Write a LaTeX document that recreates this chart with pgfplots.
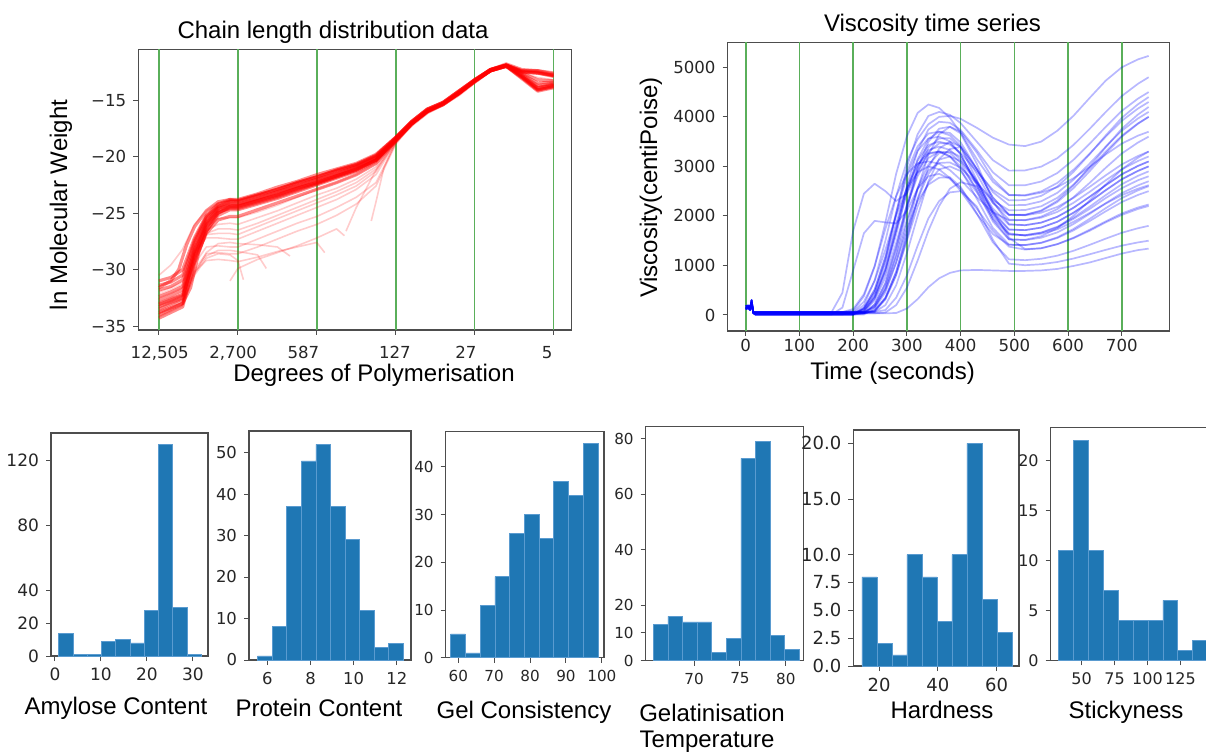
\documentclass[border=0pt]{standalone}
\usepackage{fontspec}
\setmainfont{Liberation Sans}
\newfontfamily\tickfont{DejaVu Sans}
\usepackage{pgfplots}
\pgfplotsset{compat=1.18}

\definecolor{mplblue}{HTML}{1F77B4}
\definecolor{baredge}{HTML}{5A9BD0}
\definecolor{gridgreen}{HTML}{5AAF5A}
\definecolor{spine}{HTML}{4D4D4D}

\newcommand{\tf}[1]{\tickfont\fontsize{#1}{#1}\selectfont}
\newcommand{\lf}{\fontsize{12}{14}\selectfont}

\pgfplotsset{
  panel/.style={
    scale only axis, anchor=south west,
    axis line style={spine, line width=0.6pt},
    tick align=outside, tick pos=left,
    major tick length=2.5pt,
    every tick/.style={spine, line width=0.5pt},
    tick label style={text=black!85},
    /pgf/number format/assume math mode=true,
    /pgf/number format/1000 sep={},
    scaled ticks=false,
  },
  hist/.style={panel, ymin=0},
  bars/.style={ybar interval, fill=mplblue, draw=baredge, line width=0.35pt},
  vline/.style={draw=gridgreen, line width=0.8pt, forget plot},
  red curve/.style={color=red, opacity=0.45, line width=1.6pt, line join=round},
  faint red/.style={color=red, opacity=0.2, line width=0.8pt, line join=round},
  blue curve/.style={color=blue, opacity=0.28, line width=0.85pt, line join=round},
}

\begin{document}
\begin{tikzpicture}

% ---- chain length distribution
\begin{axis}[panel, at={(69.15pt,210.5pt)}, width=216.7pt, height=140.35pt,
  xmin=-0.262, xmax=5.23, ymin=-35.35, ymax=-10.5,
  xtick={0,1,2,3,4,5}, xticklabels={,,,,,},
  extra x ticks={0.01,0.94,1.83,2.99,3.89,4.92},
  extra x tick labels={{12,505},{2,700},587,127,27,5},
  extra x tick style={major tick length=0pt, tick label style={yshift=-4.5pt}},
  ytick={-35,-30,-25,-20,-15}, yticklabels={−35,−30,−25,−20,−15},
  tick label style={font=\tf{8.3}},
]
\addplot[vline] coordinates {(0,-40)(0,0)};
\addplot[vline] coordinates {(1,-40)(1,0)};
\addplot[vline] coordinates {(2,-40)(2,0)};
\addplot[vline] coordinates {(3,-40)(3,0)};
\addplot[vline] coordinates {(4,-40)(4,0)};
\addplot[vline] coordinates {(5,-40)(5,0)};
% lower fan
\addplot[faint red] coordinates {(0,-32.0)(0.15,-31.6)(0.3,-31.1)(0.45,-28.0)(0.6,-26.2)(0.75,-25.5)(0.9,-25.4)(1,-25.4)(1.25,-24.9)(1.5,-24.3)(1.75,-23.6)(2,-22.9)(2.25,-22.3)(2.5,-21.6)(2.75,-20.6)(3,-18.5)(3.2,-17.0)(3.4,-15.9)(3.6,-15.3)(3.8,-14.3)(4,-13.3)(4.2,-12.4)(4.4,-11.9)(4.6,-12.8)(4.8,-13.9)(5,-13.6)};
\addplot[faint red] coordinates {(0,-33.2)(0.15,-32.8)(0.3,-32.3)(0.45,-28.7)(0.6,-26.8)(0.75,-26.4)(0.9,-26.4)(1,-26.5)(1.25,-25.9)(1.5,-25.2)(1.75,-24.5)(2,-23.8)(2.25,-23.1)(2.5,-22.3)(2.75,-21.1)(3,-18.6)(3.2,-17.1)(3.4,-16.0)(3.6,-15.3)(3.8,-14.4)(4,-13.3)(4.2,-12.4)(4.4,-11.9)(4.6,-12.5)(4.8,-12.6)(5,-12.9)};
\addplot[faint red] coordinates {(0,-32.5)(0.15,-32.1)(0.3,-31.6)(0.45,-28.5)(0.6,-27.2)(0.75,-27.2)(0.9,-27.3)(1,-27.3)(1.25,-26.6)(1.5,-25.9)(1.75,-25.2)(2,-24.5)(2.25,-23.8)(2.5,-22.9)(2.75,-21.6)(3,-18.7)(3.2,-17.1)(3.4,-16.0)(3.6,-15.3)(3.8,-14.4)(4,-13.3)(4.2,-12.4)(4.4,-12.0)(4.6,-13.0)(4.8,-14.1)(5,-13.8)};
\addplot[faint red] coordinates {(0,-33.8)(0.15,-33.3)(0.3,-32.8)(0.45,-29.5)(0.6,-28.0)(0.75,-27.9)(0.9,-28.0)(1,-28.0)(1.25,-27.3)(1.5,-26.6)(1.75,-25.9)(2,-25.3)(2.25,-24.5)(2.5,-23.6)(2.75,-22.3)(3,-18.8)(3.2,-17.2)(3.4,-16.1)(3.6,-15.4)(3.8,-14.5)(4,-13.4)(4.2,-12.4)(4.4,-12.0)(4.6,-12.9)(4.8,-13.8)(5,-13.6)};
\addplot[faint red] coordinates {(0,-34.1)(0.15,-33.6)(0.3,-33.1)(0.45,-30.0)(0.6,-28.6)(0.75,-28.5)(0.9,-28.6)(1,-28.6)(1.25,-28.0)(1.5,-27.3)(1.75,-26.6)(2,-26.0)(2.25,-25.2)(2.5,-24.2)(2.75,-22.6)(3,-18.9)(3.2,-17.2)(3.4,-16.1)(3.6,-15.4)(3.8,-14.5)(4,-13.4)(4.2,-12.5)(4.4,-12.0)(4.6,-12.6)(4.8,-12.7)(5,-12.9)};
\addplot[faint red] coordinates {(0,-33.6)(0.15,-33.2)(0.3,-32.6)(0.45,-30.2)(0.6,-29.2)(0.75,-29.1)(0.9,-29.2)(1,-29.3)(1.25,-28.9)(1.5,-28.4)(1.75,-28.0)(2,-27.6)(2.1,-28.5)};
\addplot[faint red] coordinates {(0.9,-31.0)(1,-29.9)(1.25,-29.1)(1.5,-28.5)(1.75,-27.9)(2,-27.2)(2.25,-26.4)(2.35,-27.0)};
\addplot[faint red] coordinates {(0,-32.9)(0.15,-32.5)(0.3,-32.0)(0.45,-28.6)(0.6,-26.5)(0.75,-26.0)(0.9,-25.9)(1,-26.0)(1.25,-25.4)(1.5,-24.8)(1.75,-24.1)(2,-23.4)(2.25,-22.8)(2.5,-22.0)(2.75,-20.9)(3,-18.6)(3.2,-17.1)(3.4,-16.0)(3.6,-15.3)(3.8,-14.4)(4,-13.3)(4.2,-12.4)(4.4,-11.9)(4.6,-12.7)(4.8,-13.8)(5,-13.6)};
\addplot[faint red] coordinates {(2.69,-25.7)(2.75,-24.0)(2.85,-21.0)(3,-18.7)(3.2,-17.1)(3.4,-16.0)(3.6,-15.3)(3.8,-14.4)(4,-13.3)(4.2,-12.4)(4.4,-11.9)(4.6,-12.5)(4.8,-12.6)(5,-12.9)};
\addplot[faint red] coordinates {(0,-34.2)(0.15,-33.7)(0.3,-33.2)(0.45,-30.4)(0.6,-28.5)(0.75,-27.7)(0.9,-27.6)(1,-27.7)(1.25,-27.8)(1.5,-28.0)(1.66,-28.8)};
\addplot[faint red] coordinates {(0,-33.9)(0.15,-33.4)(0.3,-32.9)(0.45,-30.5)(0.6,-29.0)(0.75,-28.6)(0.9,-28.7)(1,-29.2)(1.07,-30.9)};
\addplot[faint red] coordinates {(0,-33.7)(0.15,-33.2)(0.3,-32.8)(0.45,-30.2)(0.6,-28.8)(0.75,-28.3)(0.9,-28.3)(1,-28.4)(1.25,-28.7)(1.36,-29.9)};
\addplot[faint red] coordinates {(2.37,-26.6)(2.5,-24.5)(2.75,-21.2)(3,-18.8)(3.2,-17.2)(3.4,-16.0)(3.6,-15.3)(3.8,-14.4)(4,-13.4)(4.2,-12.4)(4.4,-12.0)(4.6,-13.0)(4.8,-14.0)(5,-13.7)};
\addplot[faint red] coordinates {(0,-32.2)(0.15,-31.8)(0.3,-31.3)(0.45,-28.3)(0.6,-26.9)(0.75,-26.8)(0.9,-26.8)(1,-26.9)(1.25,-26.2)(1.5,-25.5)(1.75,-24.8)(2,-24.1)(2.25,-23.4)(2.5,-22.6)(2.75,-21.3)(3,-18.6)(3.2,-17.1)(3.4,-16.0)(3.6,-15.3)(3.8,-14.4)(4,-13.3)(4.2,-12.4)(4.4,-11.9)(4.6,-12.6)(4.8,-13.0)(5,-13.2)};
\addplot[faint red] coordinates {(0,-30.5)(0.15,-29.6)(0.3,-28.2)(0.45,-26.0)(0.6,-24.8)(0.75,-24.1)(0.9,-23.9)(1,-23.9)(1.25,-23.4)(1.5,-22.8)(1.75,-22.3)(2,-21.7)(2.25,-21.2)(2.5,-20.7)(2.75,-19.9)(3,-18.3)(3.2,-16.9)(3.4,-15.8)(3.6,-15.2)(3.8,-14.2)(4,-13.2)(4.2,-12.3)(4.4,-11.9)(4.6,-12.4)(4.8,-12.5)(5,-12.8)};
% main band
\addplot[red curve] coordinates {(0,-31.0)(0.15,-30.7)(0.3,-30.0)(0.45,-27.2)(0.6,-25.2)(0.75,-24.2)(0.9,-23.8)(1,-23.8)(1.25,-23.3)(1.5,-22.7)(1.75,-22.2)(2,-21.6)(2.25,-21.1)(2.5,-20.6)(2.75,-19.8)(3,-18.3)(3.2,-16.9)(3.4,-15.8)(3.6,-15.2)(3.8,-14.2)(4,-13.2)(4.2,-12.3)(4.4,-11.9)(4.6,-12.4)(4.8,-12.4)(5,-12.7)};
\addplot[red curve] coordinates {(0,-31.8)(0.15,-31.5)(0.3,-30.9)(0.45,-27.6)(0.6,-25.4)(0.75,-24.4)(0.9,-24.0)(1,-24.0)(1.25,-23.5)(1.5,-23.0)(1.75,-22.4)(2,-21.9)(2.25,-21.3)(2.5,-20.8)(2.75,-20.0)(3,-18.4)(3.2,-17.0)(3.4,-15.9)(3.6,-15.3)(3.8,-14.3)(4,-13.2)(4.2,-12.3)(4.4,-11.9)(4.6,-12.9)(4.8,-14.0)(5,-13.7)};
\addplot[red curve] coordinates {(0,-32.4)(0.15,-32.0)(0.3,-31.5)(0.45,-27.9)(0.6,-25.6)(0.75,-24.5)(0.9,-24.1)(1,-24.2)(1.25,-23.7)(1.5,-23.1)(1.75,-22.6)(2,-22.0)(2.25,-21.5)(2.5,-20.9)(2.75,-20.1)(3,-18.4)(3.2,-17.0)(3.4,-15.9)(3.6,-15.3)(3.8,-14.3)(4,-13.3)(4.2,-12.3)(4.4,-11.9)(4.6,-12.5)(4.8,-12.6)(5,-12.9)};
\addplot[red curve] coordinates {(0,-33.0)(0.15,-32.6)(0.3,-32.2)(0.45,-28.2)(0.6,-25.8)(0.75,-24.6)(0.9,-24.3)(1,-24.3)(1.25,-23.8)(1.5,-23.3)(1.75,-22.7)(2,-22.2)(2.25,-21.6)(2.5,-21.0)(2.75,-20.2)(3,-18.5)(3.2,-17.1)(3.4,-16.0)(3.6,-15.3)(3.8,-14.4)(4,-13.3)(4.2,-12.4)(4.4,-12.0)(4.6,-13.0)(4.8,-14.1)(5,-13.8)};
\addplot[red curve] coordinates {(0,-33.5)(0.15,-33.0)(0.3,-32.6)(0.45,-28.6)(0.6,-26.0)(0.75,-24.8)(0.9,-24.4)(1,-24.4)(1.25,-23.9)(1.5,-23.4)(1.75,-22.8)(2,-22.3)(2.25,-21.7)(2.5,-21.1)(2.75,-20.3)(3,-18.5)(3.2,-17.1)(3.4,-16.0)(3.6,-15.4)(3.8,-14.4)(4,-13.3)(4.2,-12.4)(4.4,-11.9)(4.6,-12.9)(4.8,-13.9)(5,-13.6)};
\addplot[red curve] coordinates {(0,-34.0)(0.15,-33.5)(0.3,-33.0)(0.45,-29.0)(0.6,-26.3)(0.75,-25.0)(0.9,-24.5)(1,-24.5)(1.25,-24.0)(1.5,-23.5)(1.75,-22.9)(2,-22.4)(2.25,-21.8)(2.5,-21.2)(2.75,-20.3)(3,-18.6)(3.2,-17.1)(3.4,-16.0)(3.6,-15.3)(3.8,-14.4)(4,-13.3)(4.2,-12.3)(4.4,-11.9)(4.6,-12.5)(4.8,-12.6)(5,-12.8)};
\addplot[red curve] coordinates {(0,-32.7)(0.15,-32.3)(0.3,-31.8)(0.45,-28.4)(0.6,-25.9)(0.75,-24.6)(0.9,-24.2)(1,-24.2)(1.25,-23.7)(1.5,-23.2)(1.75,-22.6)(2,-22.1)(2.25,-21.5)(2.5,-20.9)(2.75,-20.1)(3,-18.4)(3.2,-17.0)(3.4,-15.9)(3.6,-15.3)(3.8,-14.3)(4,-13.3)(4.2,-12.4)(4.4,-12.0)(4.6,-13.1)(4.8,-14.2)(5,-13.9)};
\addplot[red curve] coordinates {(0,-34.3)(0.15,-33.8)(0.3,-33.3)(0.45,-29.4)(0.6,-26.6)(0.75,-25.2)(0.9,-24.7)(1,-24.7)(1.25,-24.2)(1.5,-23.7)(1.75,-23.1)(2,-22.5)(2.25,-21.9)(2.5,-21.3)(2.75,-20.4)(3,-18.6)(3.2,-17.2)(3.4,-16.1)(3.6,-15.4)(3.8,-14.5)(4,-13.4)(4.2,-12.4)(4.4,-12.0)(4.6,-12.8)(4.8,-13.7)(5,-13.5)};
\addplot[red curve] coordinates {(0,-31.4)(0.15,-31.1)(0.3,-30.5)(0.45,-27.4)(0.6,-25.3)(0.75,-24.3)(0.9,-23.9)(1,-23.9)(1.25,-23.4)(1.5,-22.9)(1.75,-22.3)(2,-21.8)(2.25,-21.2)(2.5,-20.7)(2.75,-19.9)(3,-18.3)(3.2,-16.9)(3.4,-15.8)(3.6,-15.2)(3.8,-14.2)(4,-13.2)(4.2,-12.3)(4.4,-11.9)(4.6,-12.4)(4.8,-12.5)(5,-12.8)};
\addplot[red curve] coordinates {(0,-33.3)(0.15,-32.9)(0.3,-32.5)(0.45,-28.8)(0.6,-26.1)(0.75,-24.9)(0.9,-24.6)(1,-24.6)(1.25,-24.1)(1.5,-23.6)(1.75,-23.0)(2,-22.4)(2.25,-21.8)(2.5,-21.2)(2.75,-20.3)(3,-18.5)(3.2,-17.1)(3.4,-16.0)(3.6,-15.4)(3.8,-14.4)(4,-13.4)(4.2,-12.4)(4.4,-12.0)(4.6,-13.0)(4.8,-14.1)(5,-13.8)};
\addplot[red curve] coordinates {(0,-33.8)(0.15,-33.4)(0.3,-33.0)(0.4,-31.6)(0.5,-28.6)(0.6,-26.6)(0.75,-25.0)(0.9,-24.4)(1,-24.4)(1.25,-23.9)(1.5,-23.4)(1.75,-22.8)(2,-22.3)(2.25,-21.7)(2.5,-21.1)(2.75,-20.3)(3,-18.5)(3.2,-17.1)(3.4,-16.0)(3.6,-15.3)(3.8,-14.4)(4,-13.3)(4.2,-12.4)(4.4,-12.0)(4.6,-12.7)(4.8,-13.5)(5,-13.4)};
\addplot[red curve] coordinates {(0,-31.6)(0.15,-31.0)(0.25,-30.0)(0.35,-27.8)(0.45,-26.2)(0.6,-24.8)(0.75,-24.0)(0.9,-23.8)(1,-23.9)(1.25,-23.4)(1.5,-22.9)(1.75,-22.3)(2,-21.8)(2.25,-21.2)(2.5,-20.7)(2.75,-19.9)(3,-18.3)(3.2,-16.9)(3.4,-15.8)(3.6,-15.2)(3.8,-14.2)(4,-13.2)(4.2,-12.3)(4.4,-11.8)(4.6,-12.3)(4.8,-12.4)(5,-12.6)};
\addplot[red curve] coordinates {(0,-33.1)(0.15,-32.7)(0.3,-32.3)(0.45,-29.2)(0.6,-26.8)(0.75,-25.6)(0.9,-25.3)(1,-25.3)(1.25,-24.7)(1.5,-24.1)(1.75,-23.5)(2,-22.9)(2.25,-22.3)(2.5,-21.6)(2.75,-20.6)(3,-18.6)(3.2,-17.1)(3.4,-16.0)(3.6,-15.3)(3.8,-14.4)(4,-13.3)(4.2,-12.4)(4.4,-11.9)(4.6,-12.6)(4.8,-13.2)(5,-13.3)};
\end{axis}

% ---- viscosity time series
\begin{axis}[panel, at={(363.8pt,210pt)}, width=220.9pt, height=144.35pt,
  xmin=-33.7, xmax=788.6, ymin=-323, ymax=5505,
  xtick={0,100,...,700}, ytick={0,1000,...,5000},
  tick label style={font=\tf{8.3}},
  xticklabel style={yshift=2pt},
]
\addplot[vline] coordinates {(0,-500)(0,6000)};
\addplot[vline] coordinates {(100,-500)(100,6000)};
\addplot[vline] coordinates {(200,-500)(200,6000)};
\addplot[vline] coordinates {(300,-500)(300,6000)};
\addplot[vline] coordinates {(400,-500)(400,6000)};
\addplot[vline] coordinates {(500,-500)(500,6000)};
\addplot[vline] coordinates {(600,-500)(600,6000)};
\addplot[vline] coordinates {(700,-500)(700,6000)};
\addplot[blue curve] coordinates {(0,140)(5,160)(8,120)(11,300)(14,40)(18,10)(160,10)(180,10)(200,10)(220,144)(240,504)(260,1152)(280,2016)(300,2808)(320,3312)(340,3564)(360,3600)(380,3507)(400,3243)(430,2650)(460,2057)(490,1723)(520,1713)(550,1765)(580,1882)(610,2064)(640,2285)(670,2519)(700,2740)(730,2909)(750,3000)};
\addplot[blue curve] coordinates {(0,180)(5,190)(8,150)(11,260)(14,50)(18,35)(160,35)(180,35)(200,35)(220,66)(240,297)(260,759)(280,1452)(300,2211)(320,2805)(340,3168)(360,3300)(380,3274)(400,3073)(430,2508)(460,1889)(490,1525)(520,1512)(550,1560)(580,1668)(610,1836)(640,2040)(670,2256)(700,2460)(730,2616)(750,2700)};
\addplot[blue curve] coordinates {(0,120)(5,140)(8,100)(11,230)(14,60)(18,60)(160,60)(180,60)(200,60)(220,60)(240,152)(260,532)(280,1216)(300,2128)(320,2964)(340,3496)(360,3762)(380,3800)(400,3706)(430,3281)(460,2750)(490,2424)(520,2419)(550,2495)(580,2666)(610,2932)(640,3255)(670,3597)(700,3920)(730,4167)(750,4300)};
\addplot[blue curve] coordinates {(0,140)(5,160)(8,120)(11,300)(14,40)(18,10)(160,10)(180,10)(200,60)(220,270)(240,690)(260,1320)(280,2010)(300,2550)(320,2880)(340,3000)(360,2939)(380,2766)(400,2506)(430,2043)(460,1634)(490,1416)(520,1411)(550,1455)(580,1554)(610,1708)(640,1895)(670,2093)(700,2280)(730,2423)(750,2500)};
\addplot[blue curve] coordinates {(0,180)(5,190)(8,150)(11,260)(14,50)(18,35)(160,35)(180,35)(200,35)(220,35)(240,70)(260,315)(280,805)(300,1540)(320,2345)(340,2975)(360,3360)(380,3500)(400,3400)(430,2944)(460,2375)(490,2026)(520,2013)(550,2065)(580,2182)(610,2364)(640,2585)(670,2819)(700,3040)(730,3209)(750,3300)};
\addplot[blue curve] coordinates {(0,120)(5,140)(8,100)(11,230)(14,60)(18,60)(160,60)(180,60)(200,60)(220,60)(240,168)(260,504)(280,1064)(300,1736)(320,2296)(340,2632)(360,2772)(380,2780)(400,2586)(430,2052)(460,1467)(490,1124)(520,1107)(550,1135)(580,1198)(610,1296)(640,1415)(670,1541)(700,1660)(730,1751)(750,1800)};
\addplot[blue curve] coordinates {(0,140)(5,160)(8,120)(11,300)(14,40)(18,10)(160,10)(180,10)(200,10)(220,123)(240,451)(260,1107)(280,2050)(300,2993)(320,3649)(340,4018)(360,4100)(380,4041)(400,3874)(430,3500)(460,3126)(490,2914)(520,2919)(550,2995)(580,3166)(610,3432)(640,3755)(670,4097)(700,4420)(730,4667)(750,4800)};
\addplot[blue curve] coordinates {(0,180)(5,190)(8,150)(11,260)(14,50)(18,35)(160,35)(180,35)(200,35)(220,35)(240,96)(260,352)(280,864)(300,1600)(320,2336)(340,2848)(360,3136)(380,3200)(400,3106)(430,2681)(460,2150)(490,1824)(520,1813)(550,1865)(580,1982)(610,2164)(640,2385)(670,2619)(700,2840)(730,3009)(750,3100)};
\addplot[blue curve] coordinates {(0,120)(5,140)(8,100)(11,230)(14,60)(18,60)(160,60)(180,60)(200,60)(220,60)(240,60)(260,100)(280,350)(300,800)(320,1400)(340,1950)(360,2300)(380,2475)(400,2500)(430,2191)(460,1518)(490,1036)(520,1005)(550,1025)(580,1070)(610,1140)(640,1225)(670,1315)(700,1400)(730,1465)(750,1500)};
\addplot[blue curve] coordinates {(0,140)(5,160)(8,120)(11,300)(14,40)(18,10)(160,10)(180,10)(200,10)(220,148)(240,518)(260,1184)(280,2072)(300,2886)(320,3404)(340,3663)(360,3700)(380,3627)(400,3418)(430,2950)(460,2482)(490,2218)(520,2219)(550,2295)(580,2466)(610,2732)(640,3055)(670,3397)(700,3720)(730,3967)(750,4100)};
\addplot[blue curve] coordinates {(0,180)(5,190)(8,150)(11,260)(14,50)(18,35)(160,35)(180,35)(200,35)(220,35)(240,35)(260,35)(280,40)(300,130)(320,320)(340,560)(360,740)(380,850)(400,900)(430,910)(460,900)(490,890)(520,890)(550,900)(580,930)(610,990)(640,1060)(670,1150)(700,1240)(730,1310)(750,1340)};
\addplot[blue curve] coordinates {(0,120)(5,140)(8,100)(11,230)(14,60)(18,60)(160,60)(180,450)(200,1700)(220,2450)(240,2650)(260,2500)(280,2300)(300,2450)(320,2900)(340,3250)(360,3300)(380,3200)(400,3000)(430,2550)(460,2000)(490,1650)(520,1600)(550,1640)(580,1730)(610,1880)(640,2060)(670,2250)(700,2420)(730,2550)(750,2620)};
\addplot[blue curve] coordinates {(0,140)(5,160)(8,120)(11,300)(14,40)(18,10)(160,10)(180,150)(200,900)(220,1650)(240,1900)(260,1870)(280,1850)(300,2100)(320,2550)(340,2800)(360,2850)(380,2750)(400,2550)(430,2150)(460,1700)(490,1380)(520,1320)(550,1350)(580,1430)(610,1560)(640,1720)(670,1890)(700,2050)(730,2170)(750,2230)};
\addplot[blue curve] coordinates {(0,180)(5,190)(8,150)(11,260)(14,50)(18,35)(160,35)(180,35)(200,35)(220,200)(240,700)(260,1500)(280,2400)(300,3100)(320,3550)(340,3850)(360,4000)(380,4020)(400,3960)(430,3780)(460,3580)(490,3440)(520,3410)(550,3500)(580,3720)(610,4020)(640,4380)(670,4730)(700,5000)(730,5160)(750,5230)};
\addplot[blue curve] coordinates {(0,120)(5,140)(8,100)(11,230)(14,60)(18,60)(160,60)(180,60)(200,60)(220,60)(240,60)(260,200)(280,600)(300,1250)(320,2000)(340,2700)(360,3150)(380,3350)(400,3390)(430,2730)(460,2050)(490,1630)(520,1610)(550,1660)(580,1770)(610,1940)(640,2140)(670,2360)(700,2560)(730,2720)(750,2800)};
\addplot[blue curve] coordinates {(0,140)(5,160)(8,120)(11,300)(14,40)(18,10)(160,10)(180,10)(200,10)(220,78)(240,351)(260,897)(280,1716)(300,2613)(320,3315)(340,3744)(360,3900)(380,3881)(400,3736)(430,3328)(460,2881)(490,2618)(520,2619)(550,2695)(580,2866)(610,3132)(640,3455)(670,3797)(700,4120)(730,4367)(750,4500)};
\addplot[blue curve] coordinates {(0,180)(5,190)(8,150)(11,260)(14,50)(18,35)(160,35)(180,35)(200,35)(220,35)(240,35)(260,50)(280,200)(300,550)(320,1100)(340,1700)(360,2200)(380,2550)(400,2680)(430,2600)(460,2100)(490,1560)(520,1330)(550,1345)(580,1430)(610,1550)(640,1700)(670,1870)(700,2020)(730,2140)(750,2200)};
\addplot[blue curve] coordinates {(0,120)(5,140)(8,100)(11,230)(14,60)(18,60)(160,60)(180,60)(200,120)(220,420)(240,990)(260,1740)(280,2400)(300,2850)(320,3060)(340,3100)(360,3054)(380,2925)(400,2729)(430,2382)(460,2075)(490,1912)(520,1917)(550,1985)(580,2138)(610,2376)(640,2665)(670,2971)(700,3260)(730,3481)(750,3600)};
\addplot[blue curve] coordinates {(0,140)(5,160)(8,120)(11,300)(14,40)(18,10)(160,10)(180,10)(200,10)(220,35)(240,210)(260,630)(280,1330)(300,2170)(320,2870)(340,3290)(360,3465)(380,3470)(400,3248)(430,2620)(460,1932)(490,1528)(520,1518)(550,1590)(580,1752)(610,2004)(640,2310)(670,2634)(700,2940)(730,3174)(750,3300)};
\addplot[blue curve] coordinates {(0,180)(5,190)(8,150)(11,260)(14,50)(18,35)(160,35)(180,35)(200,35)(220,102)(240,374)(260,918)(280,1700)(300,2482)(320,3026)(340,3332)(360,3400)(380,3331)(400,3137)(430,2700)(460,2263)(490,2017)(520,2020)(550,2100)(580,2280)(610,2560)(640,2900)(670,3260)(700,3600)(730,3860)(750,4000)};
\addplot[blue curve] coordinates {(0,120)(5,140)(8,100)(11,230)(14,60)(18,60)(160,60)(180,60)(200,85)(220,380)(240,980)(260,1870)(280,2850)(300,3610)(320,4080)(340,4250)(360,4180)(380,3980)(400,3680)(430,3150)(460,2690)(490,2420)(520,2410)(550,2470)(580,2580)(610,2760)(640,2990)(670,3240)(700,3460)(730,3620)(750,3700)};
\addplot[blue curve] coordinates {(0,140)(5,160)(8,120)(11,300)(14,40)(18,10)(160,10)(180,10)(200,10)(220,36)(240,216)(260,648)(280,1368)(300,2232)(320,2952)(340,3384)(360,3564)(380,3570)(400,3386)(430,2852)(460,2267)(490,1924)(520,1913)(550,1965)(580,2082)(610,2264)(640,2485)(670,2719)(700,2940)(730,3109)(750,3200)};
\addplot[blue curve] coordinates {(0,180)(5,190)(8,150)(11,260)(14,50)(18,35)(160,35)(180,35)(200,35)(220,35)(240,90)(260,330)(280,810)(300,1500)(320,2190)(340,2670)(360,2940)(380,3000)(400,2906)(430,2481)(460,1950)(490,1624)(520,1613)(550,1665)(580,1782)(610,1964)(640,2185)(670,2419)(700,2640)(730,2809)(750,2900)};
\addplot[blue curve] coordinates {(0,120)(5,140)(8,100)(11,230)(14,60)(18,60)(160,60)(180,60)(200,60)(220,105)(240,385)(260,945)(280,1750)(300,2555)(320,3115)(340,3430)(360,3500)(380,3441)(400,3274)(430,2900)(460,2526)(490,2314)(520,2321)(550,2405)(580,2594)(610,2888)(640,3245)(670,3623)(700,3980)(730,4253)(750,4400)};
\addplot[blue curve] coordinates {(0,140)(5,160)(8,120)(11,300)(14,40)(18,10)(160,10)(180,10)(200,10)(220,10)(240,132)(260,462)(280,1056)(300,1848)(320,2574)(340,3036)(360,3267)(380,3300)(400,3193)(430,2706)(460,2100)(490,1727)(520,1713)(550,1765)(580,1882)(610,2064)(640,2285)(670,2519)(700,2740)(730,2909)(750,3000)};
\addplot[blue curve] coordinates {(0,180)(5,190)(8,150)(11,260)(14,50)(18,35)(160,35)(180,35)(200,35)(220,74)(240,333)(260,851)(280,1628)(300,2479)(320,3145)(340,3552)(360,3700)(380,3675)(400,3486)(430,2952)(460,2367)(490,2024)(520,2022)(550,2110)(580,2308)(610,2616)(640,2990)(670,3386)(700,3760)(730,4046)(750,4200)};
\addplot[blue curve] coordinates {(0,120)(5,140)(8,100)(11,230)(14,60)(18,60)(160,60)(180,60)(200,60)(220,60)(240,76)(260,342)(280,874)(300,1672)(320,2546)(340,3230)(360,3648)(380,3800)(400,3666)(430,3058)(460,2300)(490,1834)(520,1813)(550,1865)(580,1982)(610,2164)(640,2385)(670,2619)(700,2840)(730,3009)(750,3100)};
\addplot[blue curve] coordinates {(0,140)(5,160)(8,120)(11,300)(14,40)(18,10)(160,10)(180,10)(200,10)(220,132)(240,462)(260,1056)(280,1848)(300,2574)(320,3036)(340,3267)(360,3300)(380,3207)(400,2943)(430,2350)(460,1757)(490,1423)(520,1412)(550,1460)(580,1568)(610,1736)(640,1940)(670,2156)(700,2360)(730,2516)(750,2600)};
\addplot[blue curve] coordinates {(0,180)(5,190)(8,150)(11,260)(14,50)(18,35)(160,35)(180,35)(200,35)(220,35)(240,186)(260,558)(280,1178)(300,1922)(320,2542)(340,2914)(360,3069)(380,3080)(400,2974)(430,2660)(460,2316)(490,2114)(520,2119)(550,2195)(580,2366)(610,2632)(640,2955)(670,3297)(700,3620)(730,3867)(750,4000)};
\end{axis}

% ---- histograms
\begin{axis}[hist, at={(25.5pt,47.5pt)}, width=78.5pt, height=111.5pt,
  xmin=-0.87, xmax=33.3, ymax=136.8,
  xtick={0,10,20,30}, ytick={0,20,40,80,120},
  tick label style={font=\tf{8.5}}]
\addplot[bars] coordinates {(0.8,14)(3.9,1)(7.0,1)(10.1,9)(13.2,10)(16.3,8)(19.4,28)(22.5,130)(25.6,30)(28.7,1)(31.8,1)};
\end{axis}

\begin{axis}[hist, at={(124.5pt,45.5pt)}, width=81pt, height=114.5pt,
  xmin=5.15, xmax=12.66, ymax=55.2,
  xtick={6,8,10,12}, ytick={0,10,...,50},
  tick label style={font=\tf{8.2}}]
\addplot[bars] coordinates {(5.55,1)(6.225,8)(6.9,37)(7.575,48)(8.25,52)(8.925,37)(9.6,29)(10.275,12)(10.95,3)(11.625,4)(12.3,4)};
\end{axis}

\begin{axis}[hist, at={(222.85pt,46.65pt)}, width=79.15pt, height=113pt,
  xmin=56.5, xmax=100.6, ymax=47.4,
  xtick={60,70,...,100}, ytick={0,10,...,40},
  tick label style={font=\tf{7.6}}]
\addplot[bars] coordinates {(57.9,5)(62.0,1)(66.1,11)(70.2,17)(74.3,26)(78.4,30)(82.5,25)(86.6,37)(90.7,34)(94.8,45)(98.9,45)};
\end{axis}

\begin{axis}[hist, at={(322.85pt,45.15pt)}, width=78.8pt, height=117pt,
  xmin=64.73, xmax=81.9, ymax=84.4,
  xtick={70,75,80}, ytick={0,10,20,40,60,80},
  tick label style={font=\tf{7.6}}]
\addplot[bars] coordinates {(65.56,13)(67.15,16)(68.74,14)(70.33,14)(71.92,3)(73.51,8)(75.10,73)(76.69,79)(78.28,9)(79.87,4)(81.46,4)};
\end{axis}

\begin{axis}[hist, at={(426.65pt,42.5pt)}, width=82.85pt, height=118pt,
  xmin=11.26, xmax=67.6, ymax=21.2,
  xtick={20,40,60}, ytick={0,2.5,5,7.5,10,15,20},
  yticklabels={0.0,2.5,5.0,7.5,10.0,15.0,20.0},
  tick label style={font=\tf{9}}]
\addplot[bars] coordinates {(14.2,8)(19.3,2)(24.4,1)(29.5,10)(34.6,8)(39.7,4)(44.8,10)(49.9,20)(55.0,6)(60.1,3)(65.2,3)};
\end{axis}

\begin{axis}[hist, at={(525.35pt,45.35pt)}, width=82.25pt, height=116.5pt,
  xmin=26.5, xmax=151.4, ymax=23.3,
  xtick={50,75,100,125}, ytick={0,5,...,20},
  tick label style={font=\tf{8}}]
\addplot[bars] coordinates {(32.3,11)(43.64,22)(54.98,11)(66.32,7)(77.66,4)(89.0,4)(100.34,4)(111.68,6)(123.02,1)(134.36,2)(145.7,2)};
\end{axis}

% ---- titles and labels
\node[font=\lf] at (166.5pt,359.5pt) {Chain length distribution data};
\node[font=\lf, rotate=90] at (30.5pt,273pt) {ln Molecular Weight};
\node[font=\lf] at (187pt,188pt) {Degrees of Polymerisation};
\node[font=\lf] at (466.25pt,363pt) {Viscosity time series};
\node[font=\lf, rotate=90] at (325.5pt,281.75pt) {Viscosity(centiPoise)};
\node[font=\lf] at (446.3pt,189pt) {Time (seconds)};
\node[font=\lf] at (58pt,21.5pt) {Amylose Content};
\node[font=\lf] at (159.5pt,21.5pt) {Protein Content};
\node[font=\lf] at (262pt,19.5pt) {Gel Consistency};
\node[font=\lf] at (356pt,19pt) {Gelatinisation};
\node[font=\lf] at (353.5pt,4.5pt) {Temperature};
\node[font=\lf] at (471pt,20.5pt) {Hardness};
\node[font=\lf] at (563pt,19.5pt) {Stickyness};

\pgfresetboundingbox
\useasboundingbox (0,0) rectangle (603pt,375.5pt);
\end{tikzpicture}
\end{document}
